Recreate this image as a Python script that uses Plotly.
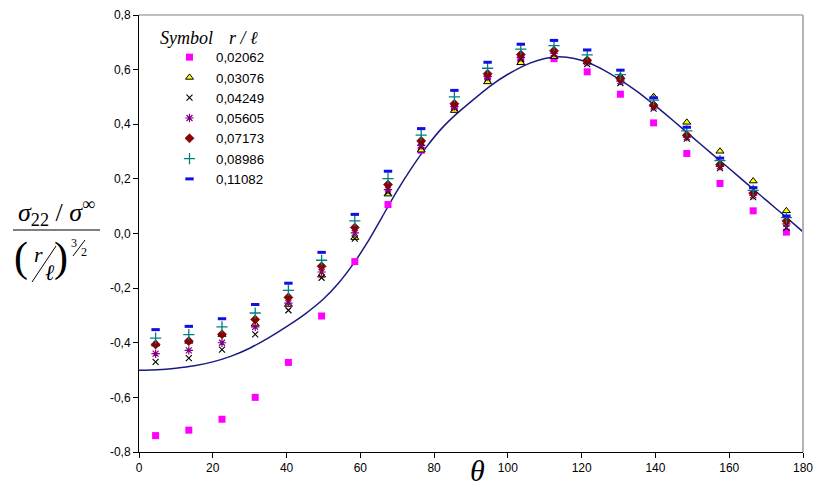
import plotly.graph_objects as go

# ---------------- data ----------------
theta = [4.5, 13.5, 22.5, 31.5, 40.5, 49.5, 58.5, 67.5, 76.5, 85.5,
         94.5, 103.5, 112.5, 121.5, 130.5, 139.5, 148.5, 157.5, 166.5, 175.5]

s_02062 = [-0.740, -0.720, -0.680, -0.600, -0.472, -0.302, -0.103, 0.106, 0.305, 0.460,
           0.575, 0.635, 0.640, 0.592, 0.510, 0.405, 0.293, 0.183, 0.083, 0.005]
s_03076 = [-0.405, -0.395, -0.370, -0.332, -0.260, -0.153, -0.015, 0.144, 0.305, 0.450,
           0.555, 0.625, 0.647, 0.628, 0.575, 0.501, 0.407, 0.301, 0.192, 0.083]
s_04249 = [-0.470, -0.456, -0.425, -0.369, -0.281, -0.162, -0.019, 0.152, 0.317, 0.460,
           0.568, 0.640, 0.655, 0.620, 0.551, 0.457, 0.347, 0.239, 0.133, 0.021]
s_05605 = [-0.440, -0.428, -0.400, -0.342, -0.255, -0.141, 0.002, 0.161, 0.323, 0.465,
           0.575, 0.645, 0.660, 0.628, 0.558, 0.465, 0.353, 0.246, 0.140, 0.035]
s_07173 = [-0.406, -0.394, -0.369, -0.315, -0.234, -0.120, 0.022, 0.179, 0.339, 0.475,
           0.585, 0.655, 0.669, 0.634, 0.567, 0.470, 0.360, 0.252, 0.148, 0.046]
s_08986 = [-0.383, -0.370, -0.342, -0.291, -0.208, -0.098, 0.046, 0.201, 0.360, 0.500,
           0.605, 0.675, 0.688, 0.654, 0.582, 0.488, 0.376, 0.267, 0.158, 0.058]
s_11082 = [-0.352, -0.340, -0.312, -0.260, -0.182, -0.069, 0.070, 0.228, 0.384, 0.524,
           0.627, 0.693, 0.707, 0.672, 0.598, 0.497, 0.389, 0.276, 0.168, 0.064]

series_names = ["0,02062", "0,03076", "0,04249", "0,05605", "0,07173", "0,08986", "0,11082"]

curve_theta = [0, 5, 10, 15, 20, 25, 30, 35, 40, 45, 50, 54, 58, 62, 66, 70, 74, 78,
               82, 86, 90, 95, 100, 106, 110, 114, 118, 122, 126, 130, 135, 140, 145,
               150, 155, 160, 165, 170, 175, 180]
curve_val = [-0.501, -0.499, -0.493, -0.484, -0.470, -0.449, -0.420, -0.383, -0.341, -0.295,
             -0.240, -0.183, -0.113, -0.031, 0.063, 0.157, 0.242, 0.318, 0.384, 0.437,
             0.483, 0.538, 0.583, 0.624, 0.641, 0.647, 0.641, 0.624, 0.598, 0.566,
             0.520, 0.467, 0.411, 0.353, 0.295, 0.238, 0.180, 0.122, 0.065, 0.006]

x_tickvals = [0, 20, 40, 60, 80, 100, 120, 140, 160, 180]
x_ticktext = ["0", "20", "40", "60", "80", "100", "120", "140", "160", "180"]
y_tickvals = [-0.8, -0.6, -0.4, -0.2, 0.0, 0.2, 0.4, 0.6, 0.8]
y_ticktext = ["-0,8", "-0,6", "-0,4", "-0,2", "0,0", "0,2", "0,4", "0,6", "0,8"]

# ---------------- layout geometry ----------------
W, H = 813, 491
L, R, T, B = 139, 10, 15, 39
PW, PH = W - L - R, H - T - B


def px(x):
    return (x - L) / PW


def py(y):
    return (H - B - y) / PH


SANS = "Liberation Sans, Arial, sans-serif"
SERIF = "Liberation Serif, Times New Roman, serif"

fig = go.Figure()

fig.add_trace(go.Scatter(x=curve_theta, y=curve_val, mode="lines",
                         line=dict(color="#1a1a80", width=1.5, shape="spline", smoothing=0.6),
                         showlegend=False, hoverinfo="skip"))

styles = [
    dict(symbol="square", size=7, color="#FF00FF", line=dict(width=0)),
    dict(symbol="triangle-up", size=7, color="#FFFF00", line=dict(color="black", width=1)),
    dict(symbol="x-thin", size=6, color="black", line=dict(color="black", width=1.1)),
    dict(symbol="asterisk", size=7, color="#800080", line=dict(color="#800080", width=1.2)),
    dict(symbol="diamond", size=7, color="#8B0000", line=dict(color="#600000", width=0.6)),
    dict(symbol="cross-thin", size=8, color="#008080", line=dict(color="#008080", width=1.3)),
    dict(symbol="line-ew", size=6, color="#0000FF", line=dict(color="#1010E0", width=3)),
]
all_series = [s_02062, s_03076, s_04249, s_05605, s_07173, s_08986, s_11082]
for name, vals, st in zip(series_names, all_series, styles):
    fig.add_trace(go.Scatter(x=theta, y=vals, mode="markers", name=name, marker=st))

axis_common = dict(showline=True, linecolor="black", linewidth=1, ticks="outside",
                   ticklen=5, tickwidth=1, tickcolor="black", showgrid=False, zeroline=False,
                   automargin=False,
                   tickfont=dict(family=SANS, size=12, color="black"))

fig.update_xaxes(range=[0, 180], tickvals=x_tickvals, ticktext=x_ticktext,
                 ticklabeloverflow="allow", **axis_common)
fig.update_yaxes(range=[-0.8, 0.8], tickvals=y_tickvals, ticktext=y_ticktext, **axis_common)

shapes = [
    dict(type="line", xref="paper", yref="paper", x0=0, x1=1, y0=1, y1=1,
         line=dict(color="#808080", width=1.2)),
    dict(type="line", xref="paper", yref="paper", x0=1, x1=1, y0=0, y1=1,
         line=dict(color="#b4b4b4", width=2)),
    # fraction bar of y label
    dict(type="line", xref="paper", yref="paper", x0=px(13), x1=px(100), y0=py(230), y1=py(230),
         line=dict(color="black", width=1.2)),
    # slanted slash r/l
    dict(type="line", xref="paper", yref="paper", x0=px(32), x1=px(56), y0=py(282), y1=py(246),
         line=dict(color="black", width=1)),
    # slash 3/2
    dict(type="line", xref="paper", yref="paper", x0=px(73), x1=px(85), y0=py(256), y1=py(240),
         line=dict(color="black", width=1)),
]


def ann(text, x, y, size, family=SERIF):
    return dict(text=text, x=px(x), y=py(y), xref="paper", yref="paper", showarrow=False,
                xanchor="center", yanchor="middle", font=dict(family=family, size=size, color="black"))


annotations = [
    ann("<i>σ</i><sub>22</sub> / <i>σ</i><sup>∞</sup>", 56, 212, 26),
    ann("(", 21, 257, 42),
    ann(")", 61, 257, 42),
    ann("<i>r</i>", 38, 254, 22),
    ann("<i>ℓ</i>", 50, 272, 22),
    ann("3", 74, 243, 12),
    ann("2", 84, 252, 12),
    ann("<i>θ</i>", 477, 470, 30),
    dict(text="<i>Symbol</i>", x=px(158), y=py(38), xref="paper", yref="paper", showarrow=False,
         xanchor="left", yanchor="middle", font=dict(family=SERIF, size=18, color="black")),
    dict(text="<i>r / ℓ</i>", x=px(227), y=py(38), xref="paper", yref="paper", showarrow=False,
         xanchor="left", yanchor="middle", font=dict(family=SERIF, size=18, color="black")),
]

fig.update_layout(
    width=W, height=H, margin=dict(l=L, r=R, t=T, b=B, pad=0, autoexpand=False),
    paper_bgcolor="white", plot_bgcolor="white",
    separators=", ",
    shapes=shapes, annotations=annotations,
    legend=dict(x=px(163), y=py(42), xanchor="left", yanchor="top",
                bgcolor="rgba(0,0,0,0)", borderwidth=0, itemwidth=43,
                font=dict(family=SANS, size=13.3, color="black")),
)

fig.write_html("out.html", config={"displayModeBar": False},
               post_script="document.body.style.margin='0px';")
